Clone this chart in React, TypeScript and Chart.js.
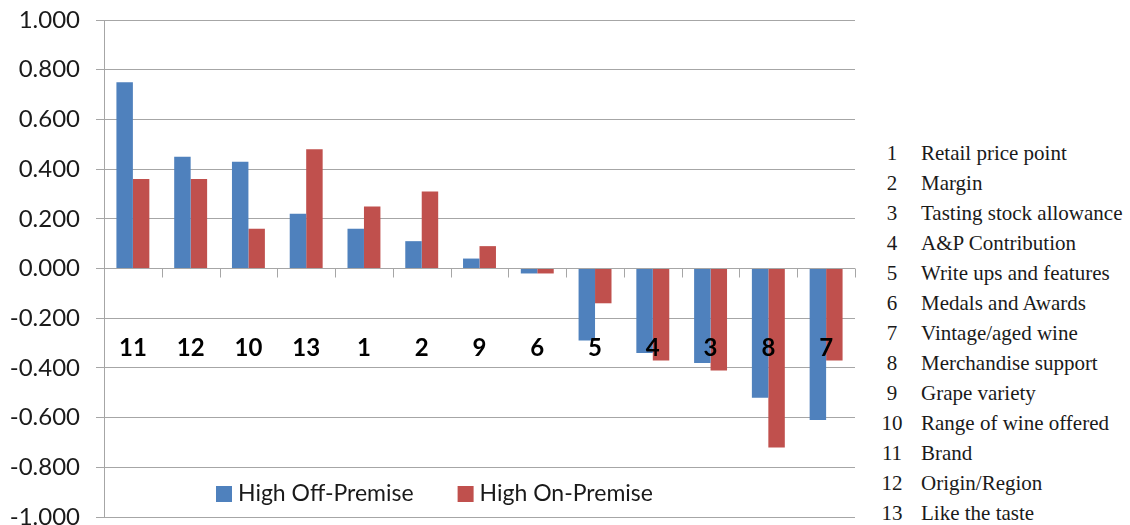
import React, { useEffect, useRef } from "react";
import { Chart, registerables } from "chart.js";

Chart.register(...registerables);

const categories = ["11", "12", "10", "13", "1", "2", "9", "6", "5", "4", "3", "8", "7"];
const offPremise = [0.75, 0.45, 0.43, 0.22, 0.16, 0.11, 0.04, -0.02, -0.29, -0.34, -0.38, -0.52, -0.61];
const onPremise = [0.36, 0.36, 0.16, 0.48, 0.25, 0.31, 0.09, -0.02, -0.14, -0.37, -0.41, -0.72, -0.37];
const seriesNames = ["High Off-Premise", "High On-Premise"];
const yMin = -1;
const yMax = 1;
const yStep = 0.2;
const categoryLabelValue = -0.32;
const keyNumbers = ["1", "2", "3", "4", "5", "6", "7", "8", "9", "10", "11", "12", "13"];
const keyLabels = [
  "Retail price point",
  "Margin",
  "Tasting stock allowance",
  "A&P Contribution",
  "Write ups and features",
  "Medals and Awards",
  "Vintage/aged wine",
  "Merchandise support",
  "Grape variety",
  "Range of wine offered",
  "Brand",
  "Origin/Region",
  "Like the taste",
];

const BLUE = "#4F81BD";
const RED = "#C0504D";
const GRID = "#a6a6a6";
const FONT = "Lato, 'Open Sans', sans-serif";

const overlayPlugin = {
  id: "excelOverlay",
  afterDatasetsDraw(chart: any) {
    const { ctx, chartArea, scales } = chart;
    const x = scales.x;
    const y = scales.y;
    const y0 = y.getPixelForValue(0);
    const n = categories.length;
    ctx.save();
    // category tick marks below the zero line
    ctx.strokeStyle = GRID;
    ctx.lineWidth = 1;
    ctx.beginPath();
    for (let i = 1; i <= n; i++) {
      const bx =
        i < n
          ? (x.getPixelForValue(i - 1) + x.getPixelForValue(i)) / 2
          : chartArea.right;
      const px = Math.round(bx) + 0.5;
      ctx.moveTo(px, y0);
      ctx.lineTo(px, y0 + 9);
    }
    ctx.stroke();

    // category labels inside plot area
    ctx.fillStyle = "#000";
    ctx.font = `bold 24px ${FONT}`;
    ctx.textAlign = "center";
    ctx.textBaseline = "middle";
    const ly = y.getPixelForValue(categoryLabelValue);
    categories.forEach((c, i) => {
      ctx.fillText(c, x.getPixelForValue(i), ly);
    });

    // legend inside plot area
    const colors = [BLUE, RED];
    ctx.font = `23px ${FONT}`;
    ctx.textAlign = "left";
    ctx.textBaseline = "middle";
    let lx = chartArea.left + 112;
    const legY = chartArea.bottom - 23;
    seriesNames.forEach((name, i) => {
      ctx.fillStyle = colors[i];
      ctx.fillRect(lx, legY - 8, 16, 16);
      ctx.fillStyle = "#1a1a1a";
      ctx.fillText(name, lx + 22, legY);
      lx += 22 + ctx.measureText(name).width + 44;
    });
    ctx.restore();
  },
};

export default function App() {
  const canvasRef = useRef<HTMLCanvasElement | null>(null);

  useEffect(() => {
    if (!canvasRef.current) return;
    const chart = new Chart(canvasRef.current, {
      type: "bar",
      data: {
        labels: categories,
        datasets: [
          {
            label: seriesNames[0],
            data: offPremise,
            backgroundColor: BLUE,
            borderWidth: 0,
            categoryPercentage: 0.57,
            barPercentage: 1.0,
          },
          {
            label: seriesNames[1],
            data: onPremise,
            backgroundColor: RED,
            borderWidth: 0,
            categoryPercentage: 0.57,
            barPercentage: 1.0,
          },
        ],
      },
      options: {
        animation: false,
        responsive: true,
        maintainAspectRatio: false,
        layout: { padding: { top: 20, right: 5, bottom: 10, left: 0 } },
        plugins: {
          legend: { display: false },
          tooltip: { enabled: false },
          title: { display: false },
        },
        scales: {
          x: {
            grid: { display: false },
            border: { display: false },
            ticks: { display: false },
          },
          y: {
            min: yMin,
            max: yMax,
            afterFit(scale: any) {
              scale.width = 104;
              scale.paddingTop = 0;
              scale.paddingBottom = 0;
            },
            ticks: {
              stepSize: yStep,
              padding: 16,
              color: "#1a1a1a",
              font: { family: FONT, size: 24 },
              callback: (v: any) => {
                const n = Number(v);
                return Math.abs(n) < 1e-9 ? "0.000" : n.toFixed(3);
              },
            },
            grid: {
              color: GRID,
              lineWidth: 1,
              tickLength: 8,
              drawTicks: true,
            },
            border: { display: true, color: GRID, width: 1 },
          },
        },
      },
      plugins: [overlayPlugin],
    });
    return () => chart.destroy();
  }, []);

  return (
    <div
      style={{
        position: "fixed",
        left: 0,
        top: 0,
        width: 1130,
        height: 525,
        overflow: "hidden",
        background: "#fff",
      }}
    >
      <div style={{ position: "absolute", left: 0, top: 0, width: 860, height: 535 }}>
        <canvas ref={canvasRef} />
      </div>
      <div
        style={{
          position: "absolute",
          left: 876,
          top: 138,
          fontFamily: "'Liberation Serif', 'Times New Roman', serif",
          fontSize: 21,
          color: "#1a1a1a",
        }}
      >
        {keyLabels.map((label, i) => (
          <div key={i} style={{ display: "flex", height: 30, lineHeight: "30px", whiteSpace: "nowrap" }}>
            <span style={{ width: 32, textAlign: "center" }}>{keyNumbers[i]}</span>
            <span style={{ marginLeft: 13 }}>{label}</span>
          </div>
        ))}
      </div>
    </div>
  );
}
